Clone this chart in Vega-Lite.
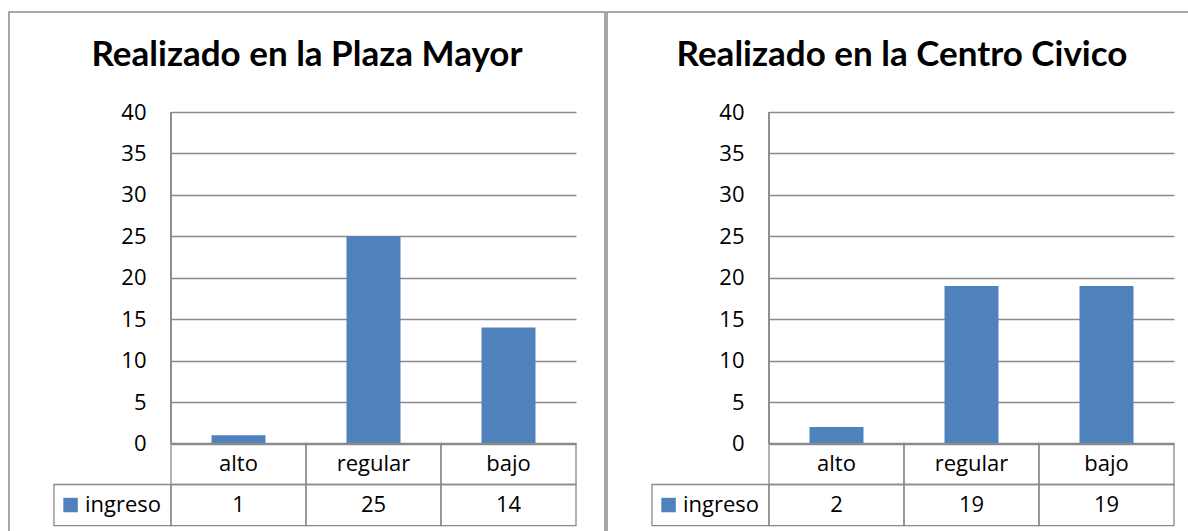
{
  "$schema": "https://vega.github.io/schema/vega-lite/v6.json",
  "padding": {"left": 8, "top": 11, "right": 0, "bottom": 0},
  "background": "white",
  "spacing": 0,
  "config": {
    "view": {"stroke": "#8a8a8a", "strokeWidth": 1.5},
    "title": {"font": "Lato", "fontSize": 35, "fontWeight": "bold", "color": "#000000", "anchor": "middle", "frame": "group", "offset": -61, "baseline": "alphabetic"},
    "axisY": {"title": null, "labelFont": "Open Sans", "labelFontSize": 22, "labelColor": "#000000", "labelAlign": "right", "gridColor": "#8a8a8a", "gridWidth": 1.3, "domain": false, "ticks": false, "labelPadding": -137}
  },
  "hconcat": [
    {
      "title": "Realizado en la Plaza Mayor",
      "width": 596,
      "height": 530,
      "data": {"values": [
        {"nivel": "alto", "ingreso": 1},
        {"nivel": "regular", "ingreso": 25},
        {"nivel": "bajo", "ingreso": 14}
      ]},
      "layer": [
        {
          "mark": {"type": "bar", "color": "#4F81BD", "width": {"band": 0.4}},
          "encoding": {
            "x": {"field": "nivel", "type": "nominal", "axis": null, "scale": {"domain": ["alto", "regular", "bajo"], "range": [162, 567], "paddingInner": 0, "paddingOuter": 0}},
            "y": {"field": "ingreso", "type": "quantitative", "title": null, "scale": {"domain": [0, 40], "range": [431.5, 100], "nice": false, "zero": true}, "axis": {"title": null, "values": [0, 5, 10, 15, 20, 25, 30, 35, 40], "grid": true}}
          }
        },
        {
          "mark": {"type": "rule", "stroke": "#8a8a8a", "strokeWidth": 1.3},
          "encoding": {
            "x": {"datum": "alto", "type": "nominal", "bandPosition": 0, "axis": null},
            "y": {"datum": 0, "title": null},
            "y2": {"datum": 40}
          }
        },
        {
          "mark": {"type": "rect", "fill": null, "stroke": "#8a8a8a", "strokeWidth": 1.3},
          "encoding": {
            "x": {"field": "nivel", "type": "nominal", "axis": null},
            "y": {"datum": 0, "title": null},
            "y2": {"datum": -4.95}
          }
        },
        {
          "mark": {"type": "rect", "fill": null, "stroke": "#8a8a8a", "strokeWidth": 1.3},
          "encoding": {
            "x": {"field": "nivel", "type": "nominal", "axis": null},
            "y": {"datum": -4.95, "title": null},
            "y2": {"datum": -9.9}
          }
        },
        {
          "mark": {"type": "text", "font": "Open Sans", "fontSize": 22, "color": "#000000"},
          "encoding": {
            "x": {"field": "nivel", "type": "nominal", "axis": null},
            "y": {"datum": -2.475, "title": null},
            "text": {"field": "nivel"}
          }
        },
        {
          "mark": {"type": "text", "font": "Open Sans", "fontSize": 22, "color": "#000000"},
          "encoding": {
            "x": {"field": "nivel", "type": "nominal", "axis": null},
            "y": {"datum": -7.425, "title": null},
            "text": {"field": "ingreso"}
          }
        },
        {
          "data": {"values": [{"serie": "ingreso"}]},
          "layer": [
            {
              "mark": {"type": "rect", "fill": null, "stroke": "#8a8a8a", "strokeWidth": 1.3},
              "encoding": {
                "x": {"datum": "alto", "type": "nominal", "bandPosition": -0.867, "axis": null},
                "x2": {"datum": "alto", "bandPosition": 0},
                "y": {"datum": -4.95, "title": null},
                "y2": {"datum": -9.9}
              }
            },
            {
              "mark": {"type": "square", "filled": true, "color": "#4F81BD", "opacity": 1, "size": 210},
              "encoding": {
                "x": {"datum": "alto", "type": "nominal", "bandPosition": -0.744, "axis": null},
                "y": {"datum": -7.425, "title": null}
              }
            },
            {
              "mark": {"type": "text", "font": "Open Sans", "fontSize": 22, "color": "#000000", "align": "left"},
              "encoding": {
                "x": {"datum": "alto", "type": "nominal", "bandPosition": -0.637, "axis": null},
                "y": {"datum": -7.425, "title": null},
                "text": {"field": "serie"}
              }
            }
          ]
        }
      ]
    },
    {
      "title": "Realizado en la Centro Civico",
      "width": 590,
      "height": 530,
      "data": {"values": [
        {"nivel": "alto", "ingreso": 2},
        {"nivel": "regular", "ingreso": 19},
        {"nivel": "bajo", "ingreso": 19}
      ]},
      "layer": [
        {
          "mark": {"type": "bar", "color": "#4F81BD", "width": {"band": 0.4}},
          "encoding": {
            "x": {"field": "nivel", "type": "nominal", "axis": null, "scale": {"domain": ["alto", "regular", "bajo"], "range": [162, 567], "paddingInner": 0, "paddingOuter": 0}},
            "y": {"field": "ingreso", "type": "quantitative", "title": null, "scale": {"domain": [0, 40], "range": [431.5, 100], "nice": false, "zero": true}, "axis": {"title": null, "values": [0, 5, 10, 15, 20, 25, 30, 35, 40], "grid": true}}
          }
        },
        {
          "mark": {"type": "rule", "stroke": "#8a8a8a", "strokeWidth": 1.3},
          "encoding": {
            "x": {"datum": "alto", "type": "nominal", "bandPosition": 0, "axis": null},
            "y": {"datum": 0, "title": null},
            "y2": {"datum": 40}
          }
        },
        {
          "mark": {"type": "rect", "fill": null, "stroke": "#8a8a8a", "strokeWidth": 1.3},
          "encoding": {
            "x": {"field": "nivel", "type": "nominal", "axis": null},
            "y": {"datum": 0, "title": null},
            "y2": {"datum": -4.95}
          }
        },
        {
          "mark": {"type": "rect", "fill": null, "stroke": "#8a8a8a", "strokeWidth": 1.3},
          "encoding": {
            "x": {"field": "nivel", "type": "nominal", "axis": null},
            "y": {"datum": -4.95, "title": null},
            "y2": {"datum": -9.9}
          }
        },
        {
          "mark": {"type": "text", "font": "Open Sans", "fontSize": 22, "color": "#000000"},
          "encoding": {
            "x": {"field": "nivel", "type": "nominal", "axis": null},
            "y": {"datum": -2.475, "title": null},
            "text": {"field": "nivel"}
          }
        },
        {
          "mark": {"type": "text", "font": "Open Sans", "fontSize": 22, "color": "#000000"},
          "encoding": {
            "x": {"field": "nivel", "type": "nominal", "axis": null},
            "y": {"datum": -7.425, "title": null},
            "text": {"field": "ingreso"}
          }
        },
        {
          "data": {"values": [{"serie": "ingreso"}]},
          "layer": [
            {
              "mark": {"type": "rect", "fill": null, "stroke": "#8a8a8a", "strokeWidth": 1.3},
              "encoding": {
                "x": {"datum": "alto", "type": "nominal", "bandPosition": -0.867, "axis": null},
                "x2": {"datum": "alto", "bandPosition": 0},
                "y": {"datum": -4.95, "title": null},
                "y2": {"datum": -9.9}
              }
            },
            {
              "mark": {"type": "square", "filled": true, "color": "#4F81BD", "opacity": 1, "size": 210},
              "encoding": {
                "x": {"datum": "alto", "type": "nominal", "bandPosition": -0.744, "axis": null},
                "y": {"datum": -7.425, "title": null}
              }
            },
            {
              "mark": {"type": "text", "font": "Open Sans", "fontSize": 22, "color": "#000000", "align": "left"},
              "encoding": {
                "x": {"datum": "alto", "type": "nominal", "bandPosition": -0.637, "axis": null},
                "y": {"datum": -7.425, "title": null},
                "text": {"field": "serie"}
              }
            }
          ]
        }
      ]
    }
  ]
}
